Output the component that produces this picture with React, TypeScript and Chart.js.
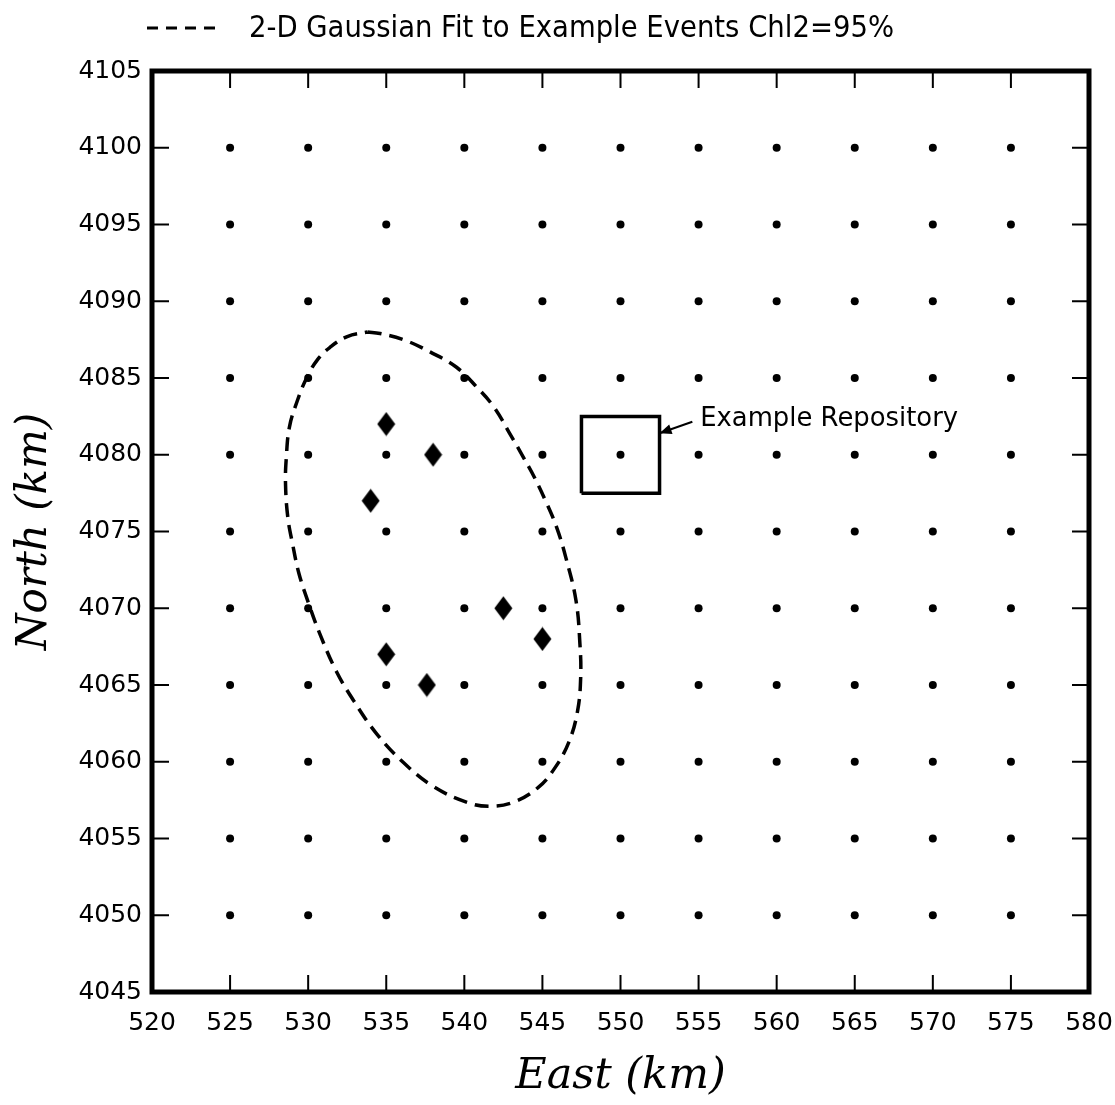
import React, { useEffect, useRef } from "react";
import { Chart, registerables } from "chart.js";

Chart.register(...registerables);

// ---- Data ----
const xTickValues = [520, 525, 530, 535, 540, 545, 550, 555, 560, 565, 570, 575, 580];
const yTickValues = [4045, 4050, 4055, 4060, 4065, 4070, 4075, 4080, 4085, 4090, 4095, 4100, 4105];

const gridEast = [525, 530, 535, 540, 545, 550, 555, 560, 565, 570, 575];
const gridNorth = [4050, 4055, 4060, 4065, 4070, 4075, 4080, 4085, 4090, 4095, 4100];

const eventEast = [535, 538, 534, 542.5, 545, 535, 537.6];
const eventNorth = [4082, 4080, 4077, 4070, 4068, 4067, 4065];

const ellipseEast = [
  533.8, 534.6, 536.1, 537.8, 539.5, 540.8, 541.9, 542.9, 543.8, 544.5, 545.2, 545.9, 546.5, 547.15,
  547.4, 547.45, 547.25, 546.7, 545.8, 544.7, 543.1, 541.6, 540.2, 538.0, 536.1, 534.4, 532.9, 531.8,
  530.8, 530.0, 529.4, 529.0, 528.7, 528.55, 528.6, 528.8, 529.3, 529.9, 530.6, 531.4, 532.5, 533.8,
];
const ellipseNorth = [
  4088.0, 4087.9, 4087.5, 4086.7, 4085.7, 4084.4, 4083.1, 4081.4, 4079.8, 4078.5, 4077.0, 4075.3,
  4073.3, 4070.5, 4067.7, 4065.5, 4063.3, 4061.3, 4059.6, 4058.3, 4057.35, 4057.1, 4057.35, 4058.4,
  4059.95, 4061.8, 4064.0, 4065.9, 4068.2, 4070.4, 4072.3, 4074.2, 4075.9, 4078.1, 4079.8, 4081.8,
  4083.5, 4085.0, 4086.2, 4087.0, 4087.7, 4088.0,
];

const repoEast = [547.5, 547.5, 552.5, 552.5, 547.5];
const repoNorth = [4077.5, 4082.5, 4082.5, 4077.5, 4077.5];

const legendText = "2-D Gaussian Fit to Example Events Chl2=95%";
const repoLabel = "Example Repository";
const repoArrowTip = [552.5, 4081.4];
const repoArrowTail = [554.6, 4082.15];
const repoLabelPos = [555.1, 4082.3];

// ---- Helpers ----
function makeDiamond(): HTMLCanvasElement {
  const c = document.createElement("canvas");
  c.width = 19;
  c.height = 25;
  const g = c.getContext("2d")!;
  g.fillStyle = "#000";
  g.beginPath();
  g.moveTo(9.5, 0.5);
  g.lineTo(18.5, 12.5);
  g.lineTo(9.5, 24.5);
  g.lineTo(0.5, 12.5);
  g.closePath();
  g.fill();
  return c;
}

const framePlugin = {
  id: "frameTicks",
  afterDraw(chart: any) {
    const { ctx, chartArea } = chart;
    const { left, right, top, bottom } = chartArea;
    const x = chart.scales.x;
    const y = chart.scales.y;
    const tl = 17;
    ctx.save();
    ctx.strokeStyle = "#000";
    ctx.lineWidth = 2;
    ctx.beginPath();
    x.ticks.forEach((t: any) => {
      if (t.value <= x.min || t.value >= x.max) return;
      const px = x.getPixelForValue(t.value);
      ctx.moveTo(px, bottom);
      ctx.lineTo(px, bottom - tl);
      ctx.moveTo(px, top);
      ctx.lineTo(px, top + tl);
    });
    y.ticks.forEach((t: any) => {
      if (t.value <= y.min || t.value >= y.max) return;
      const py = y.getPixelForValue(t.value);
      ctx.moveTo(left, py);
      ctx.lineTo(left + tl, py);
      ctx.moveTo(right, py);
      ctx.lineTo(right - tl, py);
    });
    ctx.stroke();
    ctx.lineWidth = 5;
    ctx.strokeRect(left, top, right - left, bottom - top);
    ctx.restore();
  },
};

const annotationPlugin = {
  id: "annots",
  afterDraw(chart: any) {
    const { ctx } = chart;
    const x = chart.scales.x;
    const y = chart.scales.y;
    ctx.save();
    ctx.fillStyle = "#000";
    ctx.strokeStyle = "#000";

    // Legend (top)
    ctx.lineWidth = 3;
    ctx.setLineDash([11, 8]);
    ctx.beginPath();
    ctx.moveTo(147, 28);
    ctx.lineTo(216, 28);
    ctx.stroke();
    ctx.setLineDash([]);
    ctx.font = "31px 'DejaVu Sans'";
    ctx.textBaseline = "middle";
    ctx.textAlign = "left";
    ctx.fillText(legendText, 249, 29, 645);

    // Repository arrow and label
    const tx = x.getPixelForValue(repoArrowTip[0]);
    const ty = y.getPixelForValue(repoArrowTip[1]);
    const sx = x.getPixelForValue(repoArrowTail[0]);
    const sy = y.getPixelForValue(repoArrowTail[1]);
    ctx.lineWidth = 2;
    ctx.beginPath();
    ctx.moveTo(sx, sy);
    ctx.lineTo(tx, ty);
    ctx.stroke();
    const ang = Math.atan2(ty - sy, tx - sx);
    const hl = 12;
    const hw = 5;
    ctx.beginPath();
    ctx.moveTo(tx, ty);
    ctx.lineTo(tx - hl * Math.cos(ang) + hw * Math.sin(ang), ty - hl * Math.sin(ang) - hw * Math.cos(ang));
    ctx.lineTo(tx - hl * Math.cos(ang) - hw * Math.sin(ang), ty - hl * Math.sin(ang) + hw * Math.cos(ang));
    ctx.closePath();
    ctx.fill();

    ctx.font = "26px 'DejaVu Sans'";
    ctx.fillText(repoLabel, x.getPixelForValue(repoLabelPos[0]), y.getPixelForValue(repoLabelPos[1]), 258);
    ctx.restore();
  },
};

export default function App() {
  const canvasRef = useRef<HTMLCanvasElement | null>(null);

  useEffect(() => {
    if (!canvasRef.current) return;
    const gridPoints: { x: number; y: number }[] = [];
    gridNorth.forEach((n) => gridEast.forEach((e) => gridPoints.push({ x: e, y: n })));
    const events = eventEast.map((e, i) => ({ x: e, y: eventNorth[i] }));
    const ellipse = ellipseEast.map((e, i) => ({ x: e, y: ellipseNorth[i] }));
    const repo = repoEast.map((e, i) => ({ x: e, y: repoNorth[i] }));
    const diamond = makeDiamond();

    const chart = new Chart(canvasRef.current, {
      type: "scatter",
      data: {
        datasets: [
          {
            label: "grid",
            data: gridPoints,
            pointRadius: 4,
            pointHoverRadius: 4,
            pointBackgroundColor: "#000",
            pointBorderWidth: 0,
            showLine: false,
          },
          {
            label: "Gaussian fit",
            data: ellipse,
            showLine: true,
            borderColor: "#000",
            borderWidth: 3.5,
            borderDash: [14, 8],
            pointRadius: 0,
            tension: 0.4,
            fill: false,
          },
          {
            label: "repository",
            data: repo,
            showLine: true,
            borderColor: "#000",
            borderWidth: 3.5,
            pointRadius: 0,
            tension: 0,
            fill: false,
          },
          {
            label: "events",
            data: events,
            pointStyle: diamond as any,
            pointRadius: 10,
            showLine: false,
          },
        ],
      },
      options: {
        responsive: false,
        animation: false,
        events: [],
        layout: { padding: { left: 0, top: 71, right: 26, bottom: 0 } },
        plugins: {
          legend: { display: false },
          tooltip: { enabled: false },
          title: { display: false },
        },
        scales: {
          x: {
            type: "linear",
            min: 520,
            max: 580,
            afterBuildTicks: (s: any) => {
              s.ticks = xTickValues.map((v) => ({ value: v }));
            },
            afterFit: (s: any) => {
              s.height = 113;
              s.paddingLeft = 0;
              s.paddingRight = 0;
            },
            grid: { display: false, drawTicks: false },
            border: { display: false },
            ticks: {
              autoSkip: false,
              maxRotation: 0,
              padding: 16,
              color: "#000",
              font: { family: "'DejaVu Sans'", size: 25 },
              callback: (v: any) => String(v),
            },
            title: {
              display: true,
              text: "East (km)",
              color: "#000",
              font: { family: "'DejaVu Serif'", size: 43, style: "italic" },
              padding: { top: 0, bottom: 2 },
            },
          },
          y: {
            type: "linear",
            min: 4045,
            max: 4105,
            afterBuildTicks: (s: any) => {
              s.ticks = yTickValues.map((v) => ({ value: v }));
            },
            afterFit: (s: any) => {
              s.width = 152;
              s.paddingTop = 0;
              s.paddingBottom = 0;
            },
            grid: { display: false, drawTicks: false },
            border: { display: false },
            ticks: {
              autoSkip: false,
              padding: 10,
              color: "#000",
              font: { family: "'DejaVu Sans'", size: 25 },
              callback: (v: any) => String(v),
            },
            title: {
              display: true,
              text: "North (km)",
              color: "#000",
              font: { family: "'DejaVu Serif'", size: 42, style: "italic" },
              padding: { top: 10, bottom: 0 },
            },
          },
        },
      },
      plugins: [framePlugin, annotationPlugin],
    });
    return () => chart.destroy();
  }, []);

  return (
    <div style={{ position: "absolute", left: 0, top: 0, width: 1115, height: 1105, background: "#fff" }}>
      <canvas ref={canvasRef} width={1115} height={1105} style={{ width: 1115, height: 1105, display: "block" }} />
    </div>
  );
}
